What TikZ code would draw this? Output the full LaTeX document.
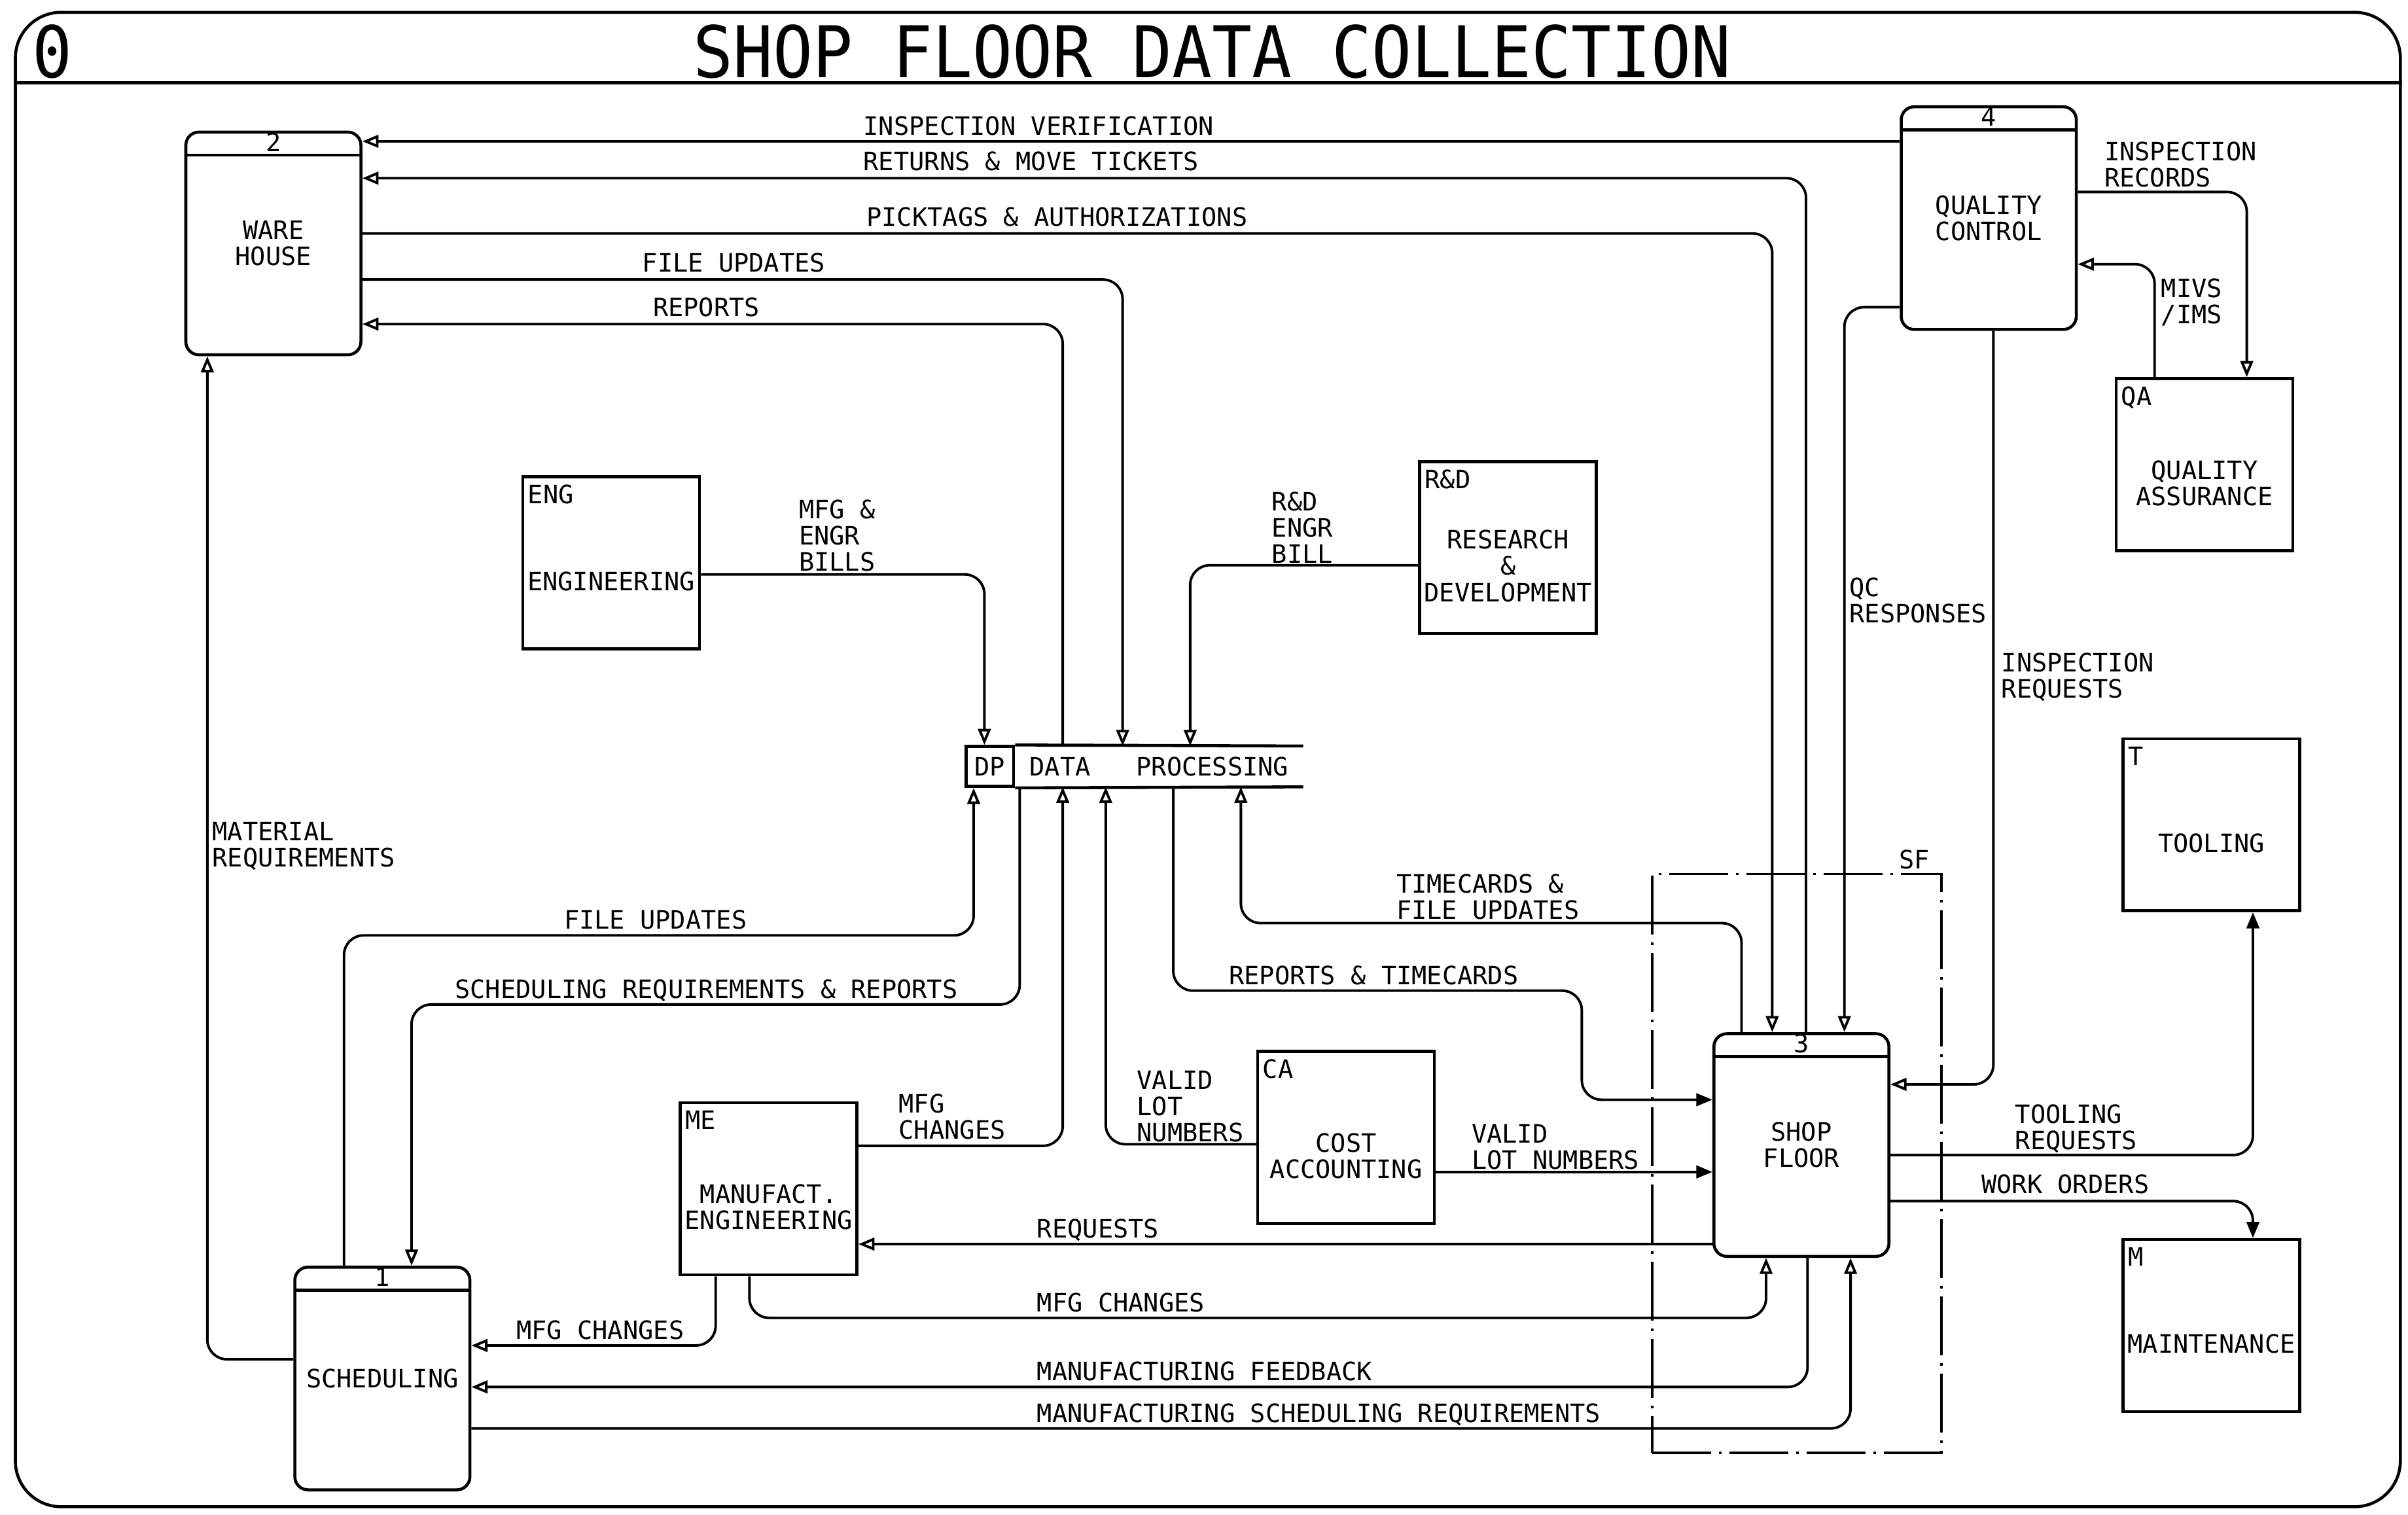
\documentclass[tikz,border=0pt]{standalone}
\usepackage{fontspec}
\usetikzlibrary{arrows.meta}
\newfontfamily\plotfont{DejaVu Sans Mono}
\newfontfamily\plottitle[FakeStretch=0.93]{DejaVu Sans Mono}
\newcommand{\pxu}{0.023469cm}
\newcommand{\lblfont}{\plotfont\fontsize{11}{11.4}\selectfont}
\tikzset{
    sheet/.style={draw, rounded corners=0.7cm, line width=1.3pt, minimum width=1553*\pxu, minimum height=973*\pxu, inner sep=0pt},
    band/.style={line width=1.3pt},
    titletext/.style={font=\plottitle\fontsize{31}{32}\selectfont, inner sep=0pt},
    process/.style={draw, rounded corners=0.2cm, line width=1.3pt, minimum width=114*\pxu, minimum height=145*\pxu, inner sep=0pt, align=center, font=\lblfont,
        path picture={\draw[line width=1.3pt] ([yshift=-15*\pxu]path picture bounding box.north west) -- ([yshift=-15*\pxu]path picture bounding box.north east);}},
    num/.style={font=\lblfont, inner sep=0pt, yshift=-7.5*\pxu},
    entity/.style={draw, line width=1.3pt, minimum width=115*\pxu, minimum height=112*\pxu, inner sep=0pt},
    tag/.style={font=\lblfont, inner sep=0pt, anchor=north west, xshift=4*\pxu, yshift=-6*\pxu},
    boxtext/.style={font=\lblfont, inner sep=0pt, align=center, yshift=-12*\pxu},
    storeid/.style={draw, line width=1.3pt, minimum width=31*\pxu, minimum height=26*\pxu, inner sep=0pt, font=\lblfont},
    store/.style={minimum width=187*\pxu, minimum height=26*\pxu, inner sep=0pt, font=\lblfont},
    storeline/.style={line width=1.3pt},
    zone/.style={draw, line width=1.1pt, dash pattern=on 0.9cm off 0.12cm on 0.04cm off 0.12cm, minimum width=188*\pxu, minimum height=377*\pxu, inner sep=0pt},
    lbl/.style={font=\lblfont, inner sep=0pt, align=left},
    flow/.style={line width=1.1pt, rounded corners=0.3cm, -{Triangle[open, length=7pt, width=5.5pt]}},
    flowfill/.style={line width=1.1pt, rounded corners=0.3cm, -{Triangle[length=7pt, width=5.5pt]}},
}

\begin{document}
\begin{tikzpicture}[x=\pxu, y=-\pxu]
\useasboundingbox (0,0) rectangle (1568,986);
\node[sheet] (sheet) at (786.5,494.5) {};
\draw[band] (sheet.west |- 0,54) -- (sheet.east |- 0,54);
\node[titletext, anchor=base] (title) at (789.5,50.5) {SHOP FLOOR DATA COLLECTION};
\node[titletext, anchor=base west] (level) at (21,50.5) {0};

% processes
\node[process] (wh) at (178,158.5) {WARE\\HOUSE};
\node[num] (wh-n) at (wh.north) {2};
\node[process] (qc) at (1295,142) {QUALITY\\CONTROL};
\node[num] (qc-n) at (qc.north) {4};
\node[process] (sf) at (1173,745.5) {SHOP\\FLOOR};
\node[num] (sf-n) at (sf.north) {3};
\node[process] (sch) at (249,897.5) {SCHEDULING};
\node[num] (sch-n) at (sch.north) {1};

% external entities
\node[entity] (eng) at (398,366.5) {};
\node[tag] (eng-t) at (eng.north west) {ENG};
\node[boxtext] (eng-x) at (eng.center) {ENGINEERING};
\node[entity] (rd) at (982,356.5) {};
\node[tag] (rd-t) at (rd.north west) {R\&D};
\node[boxtext] (rd-x) at (rd.center) {RESEARCH\\\&\\DEVELOPMENT};
\node[entity] (qa) at (1435.5,302.5) {};
\node[tag] (qa-t) at (qa.north west) {QA};
\node[boxtext] (qa-x) at (qa.center) {QUALITY\\ASSURANCE};
\node[entity] (tl) at (1440,537) {};
\node[tag] (tl-t) at (tl.north west) {T};
\node[boxtext] (tl-x) at (tl.center) {TOOLING};
\node[entity] (mt) at (1440,863) {};
\node[tag] (mt-t) at (mt.north west) {M};
\node[boxtext] (mt-x) at (mt.center) {MAINTENANCE};
\node[entity] (ca) at (876.5,740.5) {};
\node[tag] (ca-t) at (ca.north west) {CA};
\node[boxtext] (ca-x) at (ca.center) {COST\\ACCOUNTING};
\node[entity] (me) at (500.5,774) {};
\node[tag] (me-t) at (me.north west) {ME};
\node[boxtext] (me-x) at (me.center) {MANUFACT.\\ENGINEERING};

% data store
\node[storeid] (dpid) at (644.5,499) {DP};
\node[store, anchor=west] (dp) at (dpid.east) {DATA\ \ \ PROCESSING};
\draw[storeline] (dpid.north east) -- (dp.north east);
\draw[storeline] (dpid.south east) -- (dp.south east);

% shop floor boundary
\node[zone] (sfzone) at (1170,757.5) {};
\node[lbl, anchor=south east] (sfzone-t) at ([xshift=-8*\pxu, yshift=2*\pxu]sfzone.north east) {SF};

% flows round the warehouse
\draw[flow] (qc.west |- 0,92) -- (wh.east |- 0,92);
\node[lbl, anchor=base west] (l-insv) at (562,88) {INSPECTION VERIFICATION};
\draw[flow] (1176,0 |- sf.north) |- (wh.east |- 0,116);
\node[lbl, anchor=base west] (l-ret) at (562,111) {RETURNS \& MOVE TICKETS};
\draw[flow] (wh.east |- 0,152) -| (1154,0 |- sf.north);
\node[lbl, anchor=base west] (l-pick) at (564,147) {PICKTAGS \& AUTHORIZATIONS};
\draw[flow] (wh.east |- 0,182) -| (731,0 |- dp.north);
\node[lbl, anchor=base west] (l-fup1) at (418,177) {FILE UPDATES};
\draw[flow] (692,0 |- dp.north) |- (wh.east |- 0,211);
\node[lbl, anchor=base west] (l-rep1) at (425,206) {REPORTS};
\draw[flow] (sch.west |- 0,885) -| (135,0 |- wh.south);
\node[lbl, anchor=north west] (l-mat) at (138,535) {MATERIAL\\REQUIREMENTS};

% flows into and out of data processing
\draw[flow] (eng.east |- 0,374) -| (641,0 |- dpid.north);
\node[lbl, anchor=north west] (l-bills) at (520,325) {MFG \&\\ENGR\\BILLS};
\draw[flow] (rd.west |- 0,368) -| (775,0 |- dp.north);
\node[lbl, anchor=north west] (l-rdb) at (828,320) {R\&D\\ENGR\\BILL};
\draw[flow] (224,0 |- sch.north) |- (634,609) -- (634,0 |- dpid.south);
\node[lbl, anchor=base west] (l-fup2) at (367,605) {FILE UPDATES};
\draw[flow] (664,0 |- dp.south) |- (268,654) -- (268,0 |- sch.north);
\node[lbl, anchor=base west] (l-sreq) at (296,650) {SCHEDULING REQUIREMENTS \& REPORTS};
\draw[flow] (me.east |- 0,746) -| (692,0 |- dp.south);
\node[lbl, anchor=north west] (l-mfg1) at (585,712) {MFG\\CHANGES};
\draw[flow] (ca.west |- 0,745) -| (720,0 |- dp.south);
\node[lbl, anchor=north west] (l-val1) at (740,697) {VALID\\LOT\\NUMBERS};
\draw[flowfill] (764,0 |- dp.south) |- (1030,645) |- (sf.west |- 0,716);
\node[lbl, anchor=base west] (l-rept) at (800,641) {REPORTS \& TIMECARDS};
\draw[flow] (1134,0 |- sf.north) |- (808,601) -- (808,0 |- dp.south);
\node[lbl, anchor=north west] (l-time) at (909,569) {TIMECARDS \&\\FILE UPDATES};

% shop floor flows
\draw[flowfill] (ca.east |- 0,763) -- (sf.west |- 0,763);
\node[lbl, anchor=north west] (l-val2) at (958,732) {VALID\\LOT NUMBERS};
\draw[flow] (sf.west |- 0,810) -- (me.east |- 0,810);
\node[lbl, anchor=base west] (l-req) at (675,806) {REQUESTS};
\draw[flow] (488,0 |- me.south) |- (1150,858) -- (1150,0 |- sf.south);
\node[lbl, anchor=base west] (l-mfg2) at (675,854) {MFG CHANGES};
\draw[flow] (466,0 |- me.south) |- (sch.east |- 0,876);
\node[lbl, anchor=base west] (l-mfg3) at (336,872) {MFG CHANGES};
\draw[flow] (1177,0 |- sf.south) |- (sch.east |- 0,903);
\node[lbl, anchor=base west] (l-feed) at (675,899) {MANUFACTURING FEEDBACK};
\draw[flow] (sch.east |- 0,930) -| (1205,0 |- sf.south);
\node[lbl, anchor=base west] (l-msr) at (675,926) {MANUFACTURING SCHEDULING REQUIREMENTS};

% quality flows
\draw[flow] (qc.west |- 0,200) -| (1201,0 |- sf.north);
\node[lbl, anchor=north west] (l-qcr) at (1204,376) {QC\\RESPONSES};
\draw[flow] (1298,0 |- qc.south) |- (sf.east |- 0,706);
\node[lbl, anchor=north west] (l-insq) at (1303,425) {INSPECTION\\REQUESTS};
\draw[flow] (qc.east |- 0,125) -| (1463,0 |- qa.north);
\node[lbl, anchor=north west] (l-insr) at (1370,92) {INSPECTION\\RECORDS};
\draw[flow] (1403,0 |- qa.north) |- (qc.east |- 0,172);
\node[lbl, anchor=north west] (l-mivs) at (1407,181) {MIVS\\/IMS};

% tooling and maintenance
\draw[flowfill] (sf.east |- 0,752) -| (1467,0 |- tl.south);
\node[lbl, anchor=north west] (l-tool) at (1312,719) {TOOLING\\REQUESTS};
\draw[flowfill] (sf.east |- 0,782) -| (1467,0 |- mt.north);
\node[lbl, anchor=base west] (l-work) at (1290,777) {WORK ORDERS};
\end{tikzpicture}
\end{document}
